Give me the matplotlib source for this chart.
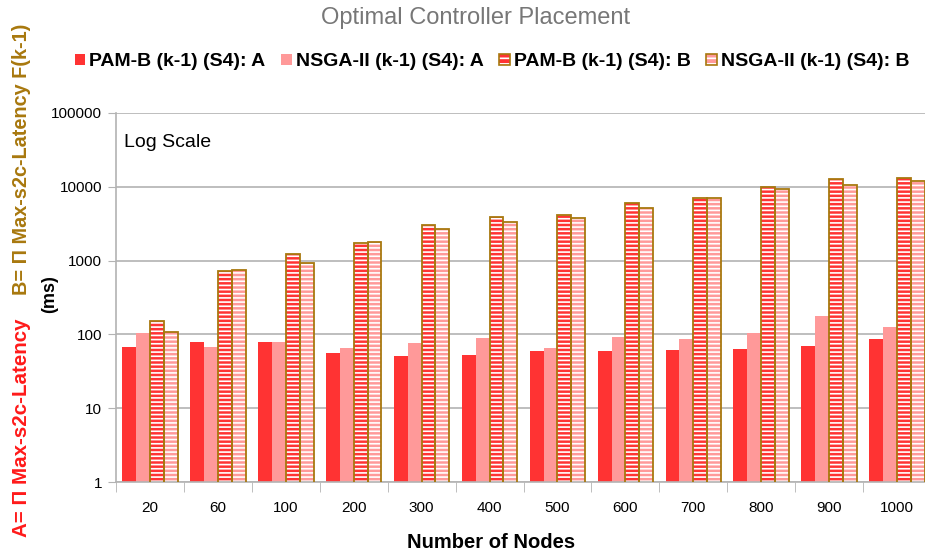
import numpy as np
import matplotlib.pyplot as plt
from matplotlib.patches import Patch
from matplotlib.legend_handler import HandlerTuple

# data (log scale, ms)
nodes = ['20', '60', '100', '200', '300', '400', '500', '600', '700', '800', '900', '1000']
pam_a = [68, 78, 79, 56, 51, 52, 59, 59, 61, 64, 69, 87]
nsga_a = [103, 67, 78, 65, 77, 89, 65, 93, 86, 105, 175, 126]
pam_b = [153, 730, 1220, 1750, 3040, 3870, 4160, 6110, 7130, 9870, 12800, 13300]
nsga_b = [108, 753, 920, 1770, 2690, 3310, 3830, 5230, 7130, 9360, 10500, 11900]

RED = '#ff3333'
PINK = '#ff9999'
BROWN = '#a8780e'

plt.rcParams['hatch.linewidth'] = 1.2
plt.rcParams['font.family'] = ['Liberation Sans', 'DejaVu Sans']

fig = plt.figure(figsize=(9.25, 5.57), dpi=100)
ax = fig.add_axes([116 / 925, 75 / 557, 815 / 925, 369 / 557])

x = np.arange(len(nodes)) + 0.5
w = 0.204
series = [(pam_a, RED, False), (nsga_a, PINK, False), (pam_b, RED, True), (nsga_b, PINK, True)]
for k, (vals, col, hatched) in enumerate(series):
    pos = x + (k - 1.5) * w
    if hatched:
        ax.bar(pos, vals, w, color=col, edgecolor='white', hatch='----', linewidth=0, zorder=2)
        ax.bar(pos, vals, w, facecolor='none', edgecolor=BROWN, linewidth=1.3, zorder=3)
    else:
        ax.bar(pos, vals, w, color=col, linewidth=0, zorder=2)

ax.set_yscale('log')
ax.set_ylim(1, 100000)
ax.set_xlim(0, len(nodes))
ax.set_yticks([1, 10, 100, 1000, 10000, 100000])
ax.set_yticklabels(['1', '10', '100', '1000', '10000', '100000'], fontsize=11)
ax.yaxis.set_minor_locator(plt.NullLocator())
ax.set_xticks(x)
ax.set_xticklabels(nodes, fontsize=11)
ax.set_xticks(np.arange(len(nodes) + 1), minor=True)
ax.tick_params(axis='x', which='major', length=0, pad=14)
ax.tick_params(axis='x', which='minor', length=7, color='#b3b3b3')
ax.tick_params(axis='y', length=6, color='#b3b3b3', pad=4)
ax.grid(axis='y', color='#b3b3b3', linewidth=1.2, zorder=0)
for s in ['top', 'right']:
    ax.spines[s].set_visible(False)
for s in ['left', 'bottom']:
    ax.spines[s].set_color('#b3b3b3')
    ax.spines[s].set_linewidth(1.2)

ax.text(0.12, 40000, 'Log Scale', fontsize=14, va='center')

fig.text(476 / 925, 1 - 18 / 557, 'Optimal Controller Placement', ha='center', va='center',
         fontsize=17, color='#777777')
fig.text(491 / 925, 1 - 543 / 557, 'Number of Nodes', ha='center', va='center',
         fontsize=14.5, fontweight='bold')
fig.text(22 / 925, 1 - 428 / 557, 'A= \u03a0 Max-s2c-Latency', rotation=90, ha='center', va='center',
         fontsize=14.8, fontweight='bold', color='#ff1a1a')
fig.text(22 / 925, 1 - 159 / 557, 'B= \u03a0 Max-s2c-Latency F(k-1)', rotation=90, ha='center',
         va='center', fontsize=14.3, fontweight='bold', color=BROWN)
fig.text(50 / 925, 1 - 294 / 557, '(ms)', rotation=90, ha='center', va='center',
         fontsize=13, fontweight='bold')

handles = [
    Patch(facecolor=RED, linewidth=0),
    Patch(facecolor=PINK, linewidth=0),
    (Patch(facecolor=RED, edgecolor='white', hatch='---', linewidth=0),
     Patch(facecolor='none', edgecolor=BROWN, linewidth=1.2)),
    (Patch(facecolor=PINK, edgecolor='white', hatch='---', linewidth=0),
     Patch(facecolor='none', edgecolor=BROWN, linewidth=1.2)),
]
labels = ['PAM-B (k-1) (S4): A', 'NSGA-II (k-1) (S4): A', 'PAM-B (k-1) (S4): B', 'NSGA-II (k-1) (S4): B']
fig.legend(handles, labels, loc='center', bbox_to_anchor=(492 / 925, 1 - 62 / 557), ncol=4,
           frameon=False, handler_map={tuple: HandlerTuple(ndivide=1, pad=0)},
           prop={'weight': 'bold', 'size': 14},
           handlelength=0.55, handleheight=0.55, handletextpad=0.2, columnspacing=0.8)

fig.savefig('out.png', dpi=100)
